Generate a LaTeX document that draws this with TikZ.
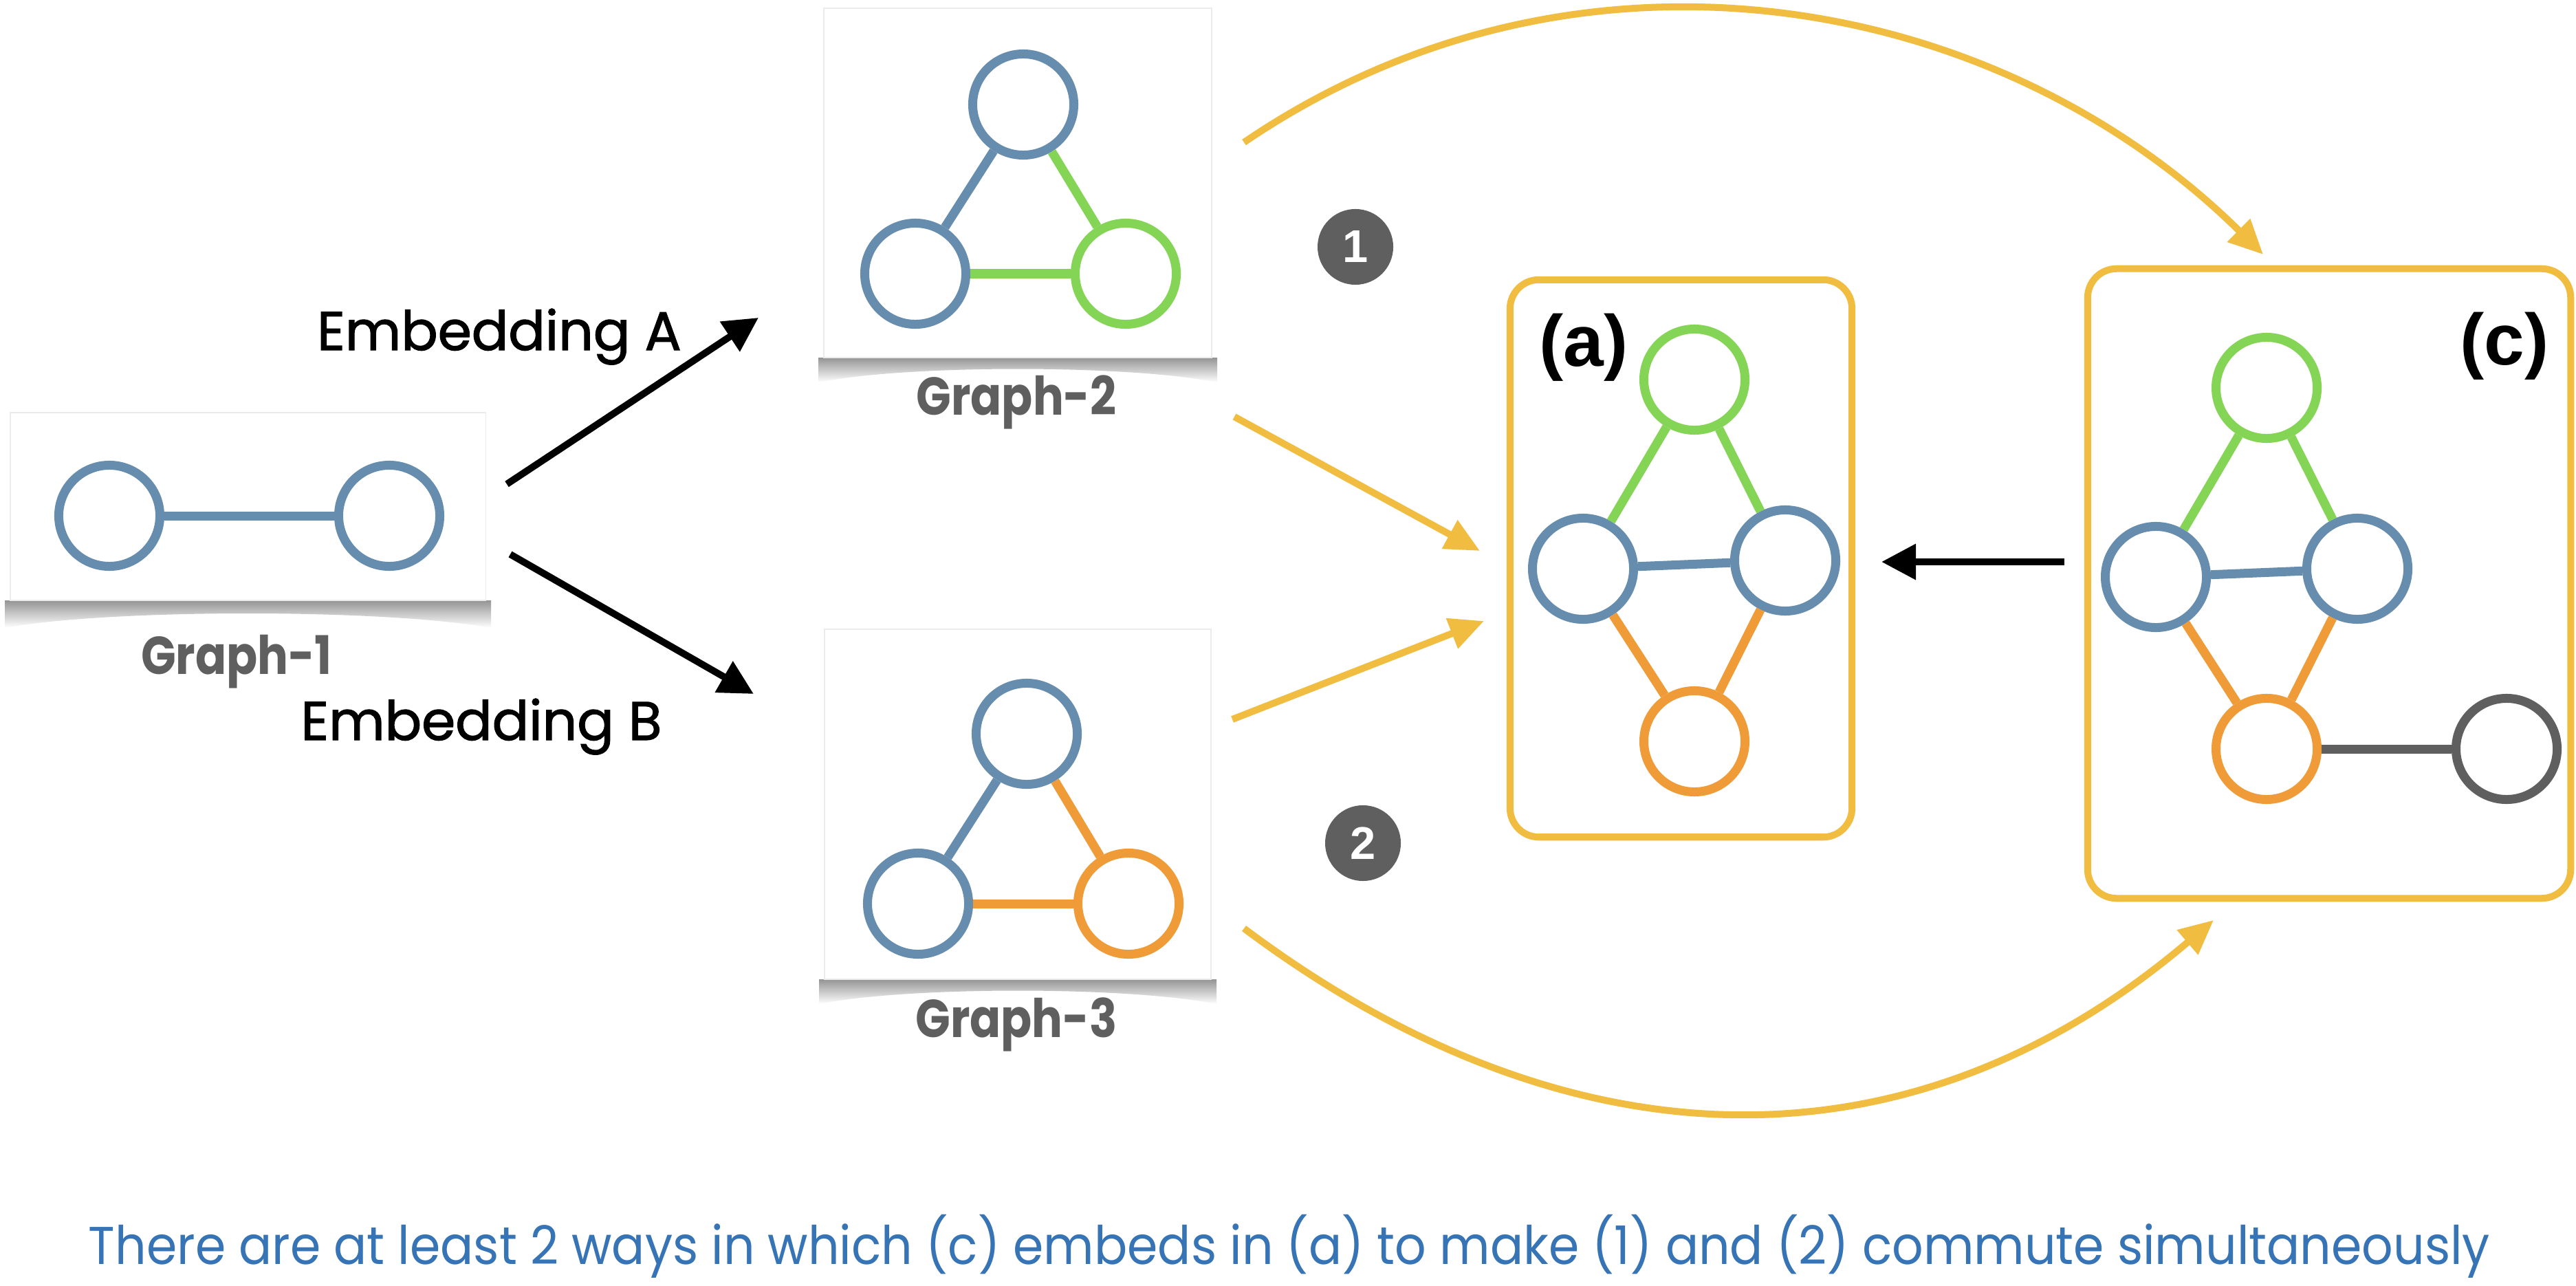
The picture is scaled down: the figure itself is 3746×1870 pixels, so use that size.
\documentclass[tikz,border=0pt]{standalone}
\usepackage{fontspec}
\usepackage{graphicx}
\setmainfont{Liberation Sans}
\newfontfamily\comicfont{Poppins}
\newfontfamily\handfont[FakeBold=1.5]{Poppins}
\usetikzlibrary{arrows.meta,calc}
\definecolor{gblue}{HTML}{678DAE}
\definecolor{ggreen}{HTML}{84D456}
\definecolor{gorange}{HTML}{EF9B37}
\definecolor{ggray}{HTML}{5F5F5F}
\definecolor{ylw}{HTML}{F0BD40}
\definecolor{txtblue}{HTML}{3674B5}
\begin{document}
\begin{tikzpicture}[x=0.01cm,y=-0.01cm,
  vert/.style={circle,line width=0.13cm,fill=white,minimum size=1.47cm,inner sep=0pt},
  bl/.style={vert,draw=gblue},
  gr/.style={vert,draw=ggreen},
  og/.style={vert,draw=gorange},
  gy/.style={vert,draw=ggray},
  gedge/.style={line width=0.13cm},
  gbox/.style={draw=black!8,fill=white,inner sep=0pt},
  ybox/.style={draw=ylw,line width=0.1cm,rounded corners=0.42cm,inner sep=0pt},
  yarrow/.style={draw=ylw,line width=0.1cm,-{Triangle[length=0.5cm,width=0.45cm]}},
  karrow/.style={draw=black,line width=0.1cm,-{Triangle[length=0.5cm,width=0.5cm]}},
  badge/.style={circle,fill=ggray,text=white,minimum size=1.1cm,inner sep=0pt,font=\bfseries\fontsize{19pt}{22pt}\selectfont},
  glabel/.style={text=ggray,anchor=base,font=\comicfont\bfseries\fontsize{22pt}{26pt}\selectfont},
  emblabel/.style={text=black,anchor=base,font=\handfont\fontsize{22.5pt}{26pt}\selectfont},
  boxlabel/.style={text=black,font=\bfseries\fontsize{30pt}{34pt}\selectfont},
  shadowfill/.style={top color=black!42,bottom color=white,draw=none}
]
\useasboundingbox (0,0) rectangle (3746,1870);
\fill[white] (0,0) rectangle (3746,1870);

% ---------- shadows ----------
\shade[shadowfill] (7,873) -- (714,873) -- (714,913) .. controls (560,885) and (160,885) .. (7,913) -- cycle;
\shade[shadowfill] (1190,520) -- (1770,520) -- (1770,556) .. controls (1640,530) and (1320,530) .. (1190,556) -- cycle;
\shade[shadowfill] (1191,1424) -- (1769,1424) -- (1769,1460) .. controls (1640,1434) and (1320,1434) .. (1191,1460) -- cycle;

% ---------- graph boxes ----------
\node[gbox,minimum width=6.91cm,minimum height=2.73cm] (box1) at (360.5,736.5) {};
\node[gbox,minimum width=5.64cm,minimum height=5.08cm] (box2) at (1480,266) {};
\node[gbox,minimum width=5.62cm,minimum height=5.09cm] (box3) at (1480,1169.5) {};

% ---------- Graph-1 ----------
\node[bl] (g1a) at (159,750) {};
\node[bl] (g1b) at (566,750) {};
\draw[gedge,gblue] (g1a) -- (g1b);
\node[glabel] (lab1) at (344,980) {\scalebox{0.86}[1]{Graph-1}};

% ---------- Graph-2 ----------
\node[bl] (g2t) at (1488,152) {};
\node[bl] (g2l) at (1331,398) {};
\node[gr] (g2r) at (1637,398) {};
\draw[gedge,gblue] (g2t) -- (g2l);
\draw[gedge,ggreen] (g2t) -- (g2r);
\draw[gedge,ggreen] (g2l) -- (g2r);
\node[glabel] (lab2) at (1478,603) {\scalebox{0.86}[1]{Graph-2}};

% ---------- Graph-3 ----------
\node[bl] (g3t) at (1493,1067) {};
\node[bl] (g3l) at (1335,1314) {};
\node[og] (g3r) at (1641,1314) {};
\draw[gedge,gblue] (g3t) -- (g3l);
\draw[gedge,gorange] (g3t) -- (g3r);
\draw[gedge,gorange] (g3l) -- (g3r);
\node[glabel] (lab3) at (1478,1508) {\scalebox{0.86}[1]{Graph-3}};

% ---------- box (a) ----------
\node[ybox,minimum width=4.97cm,minimum height=8.10cm] (boxa) at (2444.5,812) {};
\node[boxlabel] (la) at (2303,505) {(a)};
\node[gr] (at) at (2464,552) {};
\node[bl] (al) at (2302,827) {};
\node[bl] (ar) at (2596,815) {};
\node[og] (ab) at (2464,1078) {};
\draw[gedge,ggreen] (at) -- (al);
\draw[gedge,ggreen] (at) -- (ar);
\draw[gedge,gblue] (al) -- (ar);
\draw[gedge,gorange] (al) -- (ab);
\draw[gedge,gorange] (ar) -- (ab);

% ---------- box (c) ----------
\node[ybox,minimum width=7.02cm,minimum height=9.15cm] (boxc) at (3387,848.5) {};
\node[boxlabel] (lc) at (3642,503) {(c)};
\node[gr] (ct) at (3296,564) {};
\node[bl] (cl) at (3135,839) {};
\node[bl] (cr) at (3428,827) {};
\node[og] (cb) at (3296,1089) {};
\node[gy] (cg) at (3645,1089) {};
\draw[gedge,ggreen] (ct) -- (cl);
\draw[gedge,ggreen] (ct) -- (cr);
\draw[gedge,gblue] (cl) -- (cr);
\draw[gedge,gorange] (cl) -- (cb);
\draw[gedge,gorange] (cr) -- (cb);
\draw[gedge,ggray] (cb) -- (cg);

% ---------- badges ----------
\node[badge] (b1) at (1971,359) {1};
\node[badge] (b2) at (1982,1226) {2};

% ---------- embedding arrows ----------
\coordinate (eAs) at (737,704);
\coordinate (eAe) at (1103,462);
\coordinate (eBs) at (742,806);
\coordinate (eBe) at (1096,1009);
\draw[karrow] (eAs) -- (eAe);
\draw[karrow] (eBs) -- (eBe);
\node[emblabel] (embA) at (726,509) {Embedding A};
\node[emblabel] (embB) at (700,1076) {Embedding B};

% ---------- (c) -> (a) ----------
\coordinate (cas) at (3002,817);
\coordinate (cae) at (2736,817);
\draw[karrow] (cas) -- (cae);

% ---------- yellow arrows ----------
\coordinate (y1s) at (1795,606);
\coordinate (y1e) at (2152,801);
\coordinate (y2s) at (1792,1046);
\coordinate (y2e) at (2158,903);
\draw[yarrow] (y1s) -- (y1e);
\draw[yarrow] (y2s) -- (y2e);
\coordinate (ct1s) at (1809,207);
\coordinate (ct1e) at (3291,370);
\draw[yarrow] (ct1s) .. controls (2289,-120) and (2901,-15) .. (ct1e);
\coordinate (cb1s) at (1809,1350);
\coordinate (cb1e) at (3219,1338);
\draw[yarrow] (cb1s) .. controls (2264,1691) and (2764,1725) .. (cb1e);

% ---------- caption ----------
\node[text=txtblue,anchor=base,font=\comicfont\fontsize{22pt}{26pt}\selectfont] (cap) at (1875,1838)
  {\resizebox{34.9cm}{\height}{There are at least 2 ways in which (c) embeds in (a) to make (1) and (2) commute simultaneously}};
\end{tikzpicture}
\end{document}
